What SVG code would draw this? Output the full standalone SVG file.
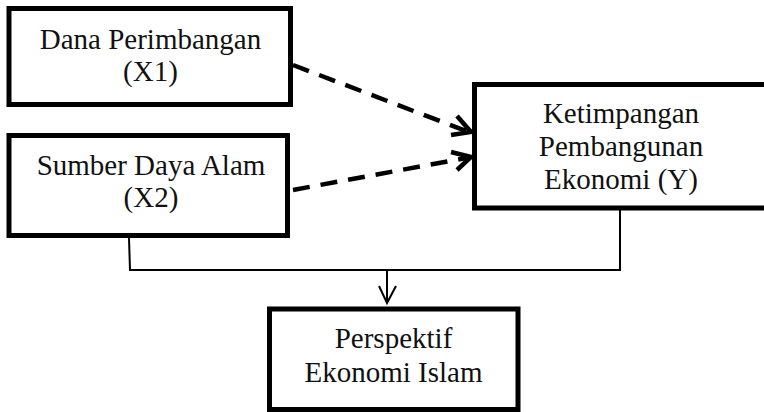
<svg xmlns="http://www.w3.org/2000/svg" width="764" height="412" viewBox="0 0 764 412">
  <style>
    .box { fill: #ffffff; stroke: #000000; stroke-width: 5; }
    .lbl { font-family: "Liberation Serif", "Times New Roman", serif; font-size: 29px; fill: #111111; text-anchor: middle; }
    .dash { fill: none; stroke: #000000; stroke-width: 4.5; stroke-dasharray: 17 11; }
    .thin { fill: none; stroke: #000000; stroke-width: 2; }
    .head { fill: none; stroke: #000000; stroke-width: 4.5; stroke-linecap: butt; stroke-linejoin: miter; }
    .headthin { fill: none; stroke: #000000; stroke-width: 2; }
  </style>
  <rect x="0" y="0" width="764" height="412" fill="#ffffff"/>
  <g id="connectors">
    <line class="dash" x1="293" y1="65" x2="466" y2="131"/>
    <polyline class="head" points="457,116 471,132 451,135"/>
    <line class="dash" x1="293" y1="190" x2="466" y2="158"/>
    <polyline class="head" points="451,152 471,157 457,170"/>
    <polyline class="thin" points="129,238 130,270 620,270 620,210"/>
    <line class="thin" x1="387" y1="270" x2="387" y2="302"/>
    <polyline class="headthin" points="379,286 387,303 396,286"/>
  </g>
  <g id="node-x1">
    <rect class="box" x="9" y="8.5" width="281.5" height="96"/>
    <text class="lbl" x="150.5" y="48.5">Dana Perimbangan</text>
    <text class="lbl" x="150.5" y="81">(X1)</text>
  </g>
  <g id="node-x2">
    <rect class="box" x="9" y="135.5" width="278.5" height="100"/>
    <text class="lbl" x="151" y="175">Sumber Daya Alam</text>
    <text class="lbl" x="151" y="207">(X2)</text>
  </g>
  <g id="node-y">
    <rect class="box" x="474.5" y="84.5" width="330" height="123.5"/>
    <text class="lbl" x="621" y="123">Ketimpangan</text>
    <text class="lbl" x="621" y="156">Pembangunan</text>
    <text class="lbl" x="621" y="188.5">Ekonomi (Y)</text>
  </g>
  <g id="node-islam">
    <rect class="box" x="269.5" y="309" width="248.5" height="100.5"/>
    <text class="lbl" x="393.5" y="347.5">Perspektif</text>
    <text class="lbl" x="393.5" y="381.5">Ekonomi Islam</text>
  </g>
</svg>
